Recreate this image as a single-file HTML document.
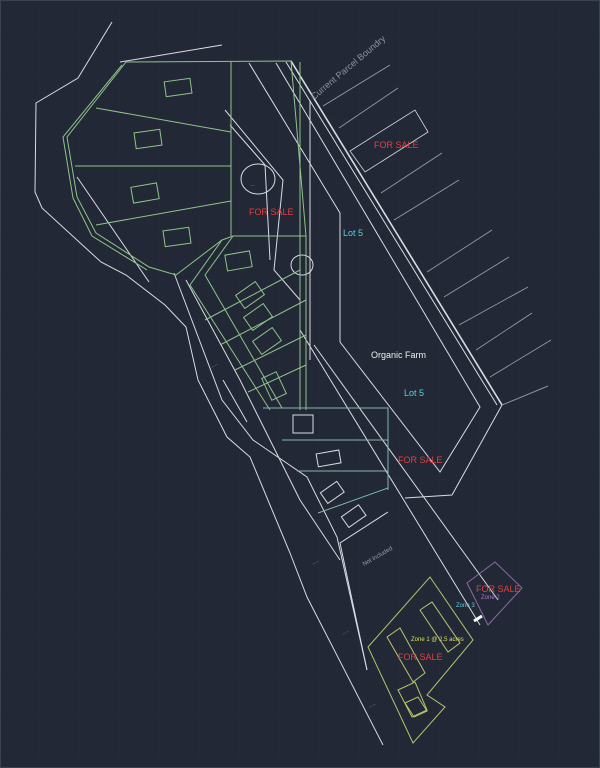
<!DOCTYPE html>
<html><head><meta charset="utf-8"><style>
html,body{margin:0;padding:0;background:#222835;}
svg{display:block}
text{font-family:"Liberation Sans",sans-serif;}
</style></head><body>
<svg width="600" height="768" viewBox="0 0 600 768" xmlns="http://www.w3.org/2000/svg">
<defs>
<pattern id="g" width="40" height="40" patternUnits="userSpaceOnUse">
<path d="M40 0V40M0 40H40" stroke="#262d3a" stroke-width="1" fill="none"/>
</pattern>
</defs>
<rect width="600" height="768" fill="#222835"/>
<rect width="600" height="768" fill="url(#g)"/>
<rect x="0.5" y="0.5" width="599" height="767" fill="none" stroke="#3a4250"/>

<g fill="none" stroke="#d8dde4" stroke-width="1">
<polyline points="112,22 78,78 36,103 35,192 42,208 101,262 126,275 165,305 186,327 198,380 227,437 250,457 290,553 307,597 383,745"/>
<polyline points="223,380 247,422"/>
<polyline points="77,177 149,282"/>
<polyline points="174,273 222,400 253,440 307,477 337,537 367,670" />
<polyline points="186,280 240,380 275,450 300,500 340,560"/>
<line x1="120" y1="62" x2="222" y2="45"/>
<line x1="291" y1="61" x2="502" y2="405" stroke-width="1.6"/>
<line x1="286" y1="62" x2="497" y2="405"/>
<polyline points="502,405 452,495 405,498"/>
<line x1="502" y1="405" x2="548" y2="386" stroke="#8a909a"/>
<polyline points="249,63 340,213 340,342 440,472 480,407 276,63"/>
<line x1="310" y1="100" x2="310" y2="360"/>
<line x1="300" y1="330" x2="480" y2="625"/>
<line x1="314" y1="345" x2="498" y2="600"/>
<polyline points="225,110 283,180 274,270 300,300"/>
<polyline points="230,125 265,165 270,260"/>
<ellipse cx="258" cy="179" rx="17" ry="15"/>
<ellipse cx="302" cy="265" rx="11" ry="10"/>
</g>

<g stroke="#9aa0a8" stroke-width="0.8" fill="none">
<line x1="323" y1="106" x2="390" y2="65"/>
<line x1="339" y1="128" x2="398" y2="88"/>
<polygon points="350,151 415,110 428,132 365,172" stroke="#d8dde4"/>
<line x1="381" y1="193" x2="442" y2="153"/>
<line x1="394" y1="220" x2="459" y2="180"/>
<line x1="427" y1="272" x2="492" y2="230"/>
<line x1="444" y1="297" x2="509" y2="257"/>
<line x1="459" y1="325" x2="528" y2="287"/>
<line x1="476" y1="350" x2="532" y2="313"/>
<line x1="490" y1="377" x2="551" y2="340"/>
</g>

<g fill="none" stroke="#8fc48a" stroke-width="1">
<polygon points="126,62 291,61 306,236 233,236 222,240 176,275 149,267 96,233 77,197 67,137"/>
<polyline points="122,65 63,137 73,198 92,236 147,270"/>
<line x1="231" y1="62" x2="231" y2="236"/>
<line x1="96" y1="108" x2="231" y2="132"/>
<line x1="75" y1="166" x2="231" y2="166"/>
<line x1="96" y1="225" x2="231" y2="201"/>
<rect x="165" y="80" width="26" height="15" transform="rotate(-8 178 87)"/>
<rect x="135" y="131" width="26" height="16" transform="rotate(-8 148 139)"/>
<rect x="132" y="185" width="26" height="16" transform="rotate(-10 145 193)"/>
<rect x="164" y="229" width="26" height="16" transform="rotate(-8 177 237)"/>
<line x1="300" y1="62" x2="300" y2="410"/>
<line x1="306" y1="236" x2="306" y2="410"/>
<polyline points="222,240 190,285 270,410"/>
<polyline points="233,236 205,275 282,408"/>
<line x1="205" y1="320" x2="300" y2="270"/>
<line x1="220" y1="345" x2="306" y2="300"/>
<line x1="235" y1="370" x2="306" y2="335"/>
<line x1="248" y1="392" x2="306" y2="365"/>
<rect x="226" y="253" width="25" height="16" transform="rotate(-10 238 261)"/>
<rect x="238" y="287" width="24" height="16" transform="rotate(-35 250 295)"/>
<rect x="246" y="309" width="24" height="16" transform="rotate(-35 258 317)"/>
<rect x="255" y="333" width="24" height="16" transform="rotate(-35 267 341)"/>
<rect x="266" y="374" width="16" height="24" transform="rotate(-25 274 386)"/>
</g>

<g fill="none" stroke="#7fb8b0" stroke-width="1">
<polyline points="263,408 388,408 388,490"/>
<line x1="282" y1="440" x2="388" y2="440"/>
<line x1="297" y1="471" x2="388" y2="471"/>
<line x1="318" y1="513" x2="388" y2="488"/>
</g>
<g fill="none" stroke="#d8dde4" stroke-width="1">
<rect x="293" y="415" width="20" height="18"/>
<rect x="317" y="452" width="23" height="13" transform="rotate(-10 328 458)"/>
<rect x="322" y="486" width="20" height="13" transform="rotate(-35 332 492)"/>
<rect x="343" y="510" width="21" height="13" transform="rotate(-35 353 516)"/>
<polyline points="367,670 340,543 388,512"/>
</g>

<g fill="none" stroke="#b9c46a" stroke-width="1">
<polygon points="368,647 430,577 473,640 427,695 445,707 413,743"/>
<polygon points="420,610 432,602 460,643 448,652"/>
<polygon points="387,637 400,628 425,673 413,682"/>
<polygon points="398,690 415,682 427,710 412,717"/>
<polygon points="405,703 418,697 427,711 414,717"/>
</g>
<polygon points="495,562 522,588 488,625 467,583" fill="none" stroke="#8a6aa8" stroke-width="1"/>
<line x1="474" y1="621" x2="482" y2="616" stroke="#fff" stroke-width="3"/>

<g fill="#aab0b8" font-size="3">
<text x="212" y="368" transform="rotate(-30 212 368)">--- ---</text>
<text x="313" y="565" transform="rotate(-30 313 565)">--- ---</text>
<text x="343" y="635" transform="rotate(-30 343 635)">--- ---</text>
<text x="370" y="708" transform="rotate(-30 370 708)">--- ---</text>
<text x="250" y="186" font-size="3">-----</text>
</g>

<text x="314" y="100" font-size="9" fill="#8f959e" transform="rotate(-40 314 100)">Current Parcel Boundry</text>
<g font-size="9" fill="#e24040">
<text x="374" y="148">FOR SALE</text>
<text x="249" y="215">FOR SALE</text>
<text x="398" y="463">FOR SALE</text>
<text x="476" y="592">FOR SALE</text>
<text x="398" y="660">FOR SALE</text>
</g>
<g font-size="9" fill="#5cd0e0">
<text x="343" y="236">Lot 5</text>
<text x="404" y="396">Lot 5</text>
</g>
<text x="371" y="358" font-size="9" fill="#f0f0f0">Organic Farm</text>
<text x="364" y="566" font-size="6" fill="#9aa0a8" transform="rotate(-30 364 566)">Not included</text>
<text x="481" y="599" font-size="6" fill="#b070d0">Zone 2</text>
<text x="456" y="607" font-size="6" fill="#5cd0e0">Zone 3</text>
<text x="411" y="641" font-size="6" fill="#d8e060">Zone 1 @ 2.5 acres</text>
</svg>
</body></html>
